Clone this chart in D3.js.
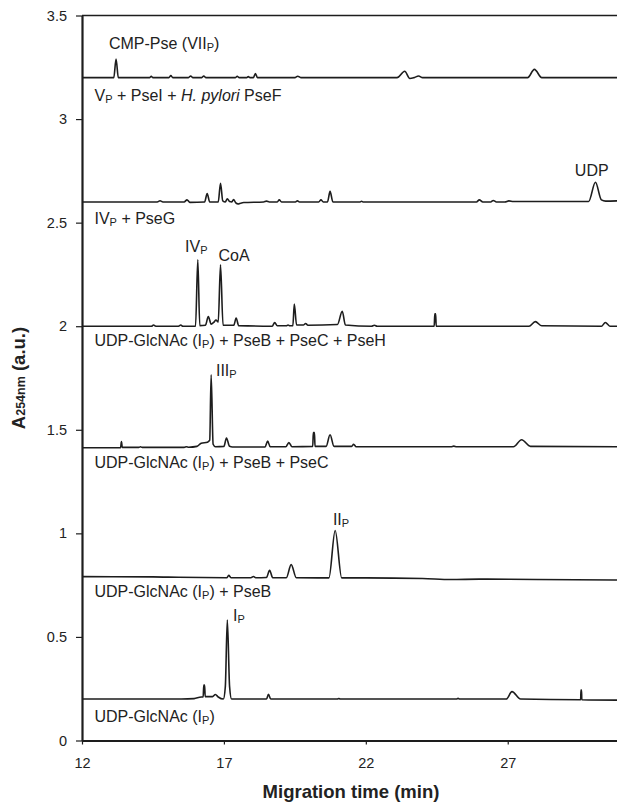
<!DOCTYPE html>
<html>
<head>
<meta charset="utf-8">
<script src="https://cdn.jsdelivr.net/npm/d3@7"></script>
<style>
  body { margin: 0; background: #fff; }
  svg { display: block; font-family: "Liberation Sans", Arial, sans-serif; }
</style>
</head>
<body>
<svg id="chart" width="617" height="804"></svg>
<script>
// axis ticks
const xTicks = [12, 17, 22, 27];
const yTicks = [0, 0.5, 1, 1.5, 2, 2.5, 3, 3.5];

// traces: [migration time (min), absorbance]
const traceCMP = [[12,3.2],[13.12,3.2],[13.2,3.29],[13.28,3.2],[14.38,3.2],[14.44,3.206],[14.5,3.2],[15.06,3.2],[15.13,3.21],[15.2,3.2],[15.75,3.2],[15.83,3.208],[15.9,3.2],[16.22,3.2],[16.29,3.208],[16.36,3.2],[17.4,3.2],[17.47,3.206],[17.54,3.2],[17.8,3.2],[17.86,3.205],[17.92,3.2],[18.04,3.2],[18.11,3.22],[18.18,3.2],[19.5,3.2],[19.6,3.207],[19.72,3.2],[23.1,3.2],[23.37,3.231],[23.55,3.196],[23.7,3.2],[23.86,3.208],[24.0,3.2],[27.7,3.2],[27.94,3.24],[28.2,3.2],[30.85,3.2]];
const tracePseG = [[12,2.6],[14.65,2.6],[14.75,2.606],[14.85,2.6],[15.6,2.6],[15.7,2.61],[15.8,2.598],[16.32,2.6],[16.41,2.64],[16.5,2.6],[16.8,2.6],[16.88,2.69],[16.96,2.605],[17.05,2.6],[17.12,2.615],[17.2,2.602],[17.28,2.6],[17.34,2.612],[17.42,2.595],[17.5,2.59],[17.59,2.594],[17.7,2.597],[18.4,2.6],[18.5,2.604],[18.6,2.6],[18.88,2.6],[18.95,2.61],[19.03,2.6],[19.52,2.6],[19.59,2.605],[19.66,2.6],[20.34,2.6],[20.42,2.61],[20.5,2.6],[20.65,2.6],[20.74,2.651],[20.84,2.6],[21.8,2.6],[21.85,2.603],[21.9,2.6],[25.9,2.6],[26.0,2.61],[26.12,2.6],[26.4,2.6],[26.49,2.607],[26.6,2.6],[26.9,2.6],[27.04,2.605],[27.2,2.602],[29.85,2.602],[30.09,2.695],[30.3,2.61],[30.45,2.604],[30.85,2.605]];
const tracePseH = [[12,2.0],[14.45,2.0],[14.52,2.006],[14.6,2.0],[15.4,2.0],[15.48,2.006],[15.55,2.0],[16.0,2.0],[16.08,2.321],[16.15,2.003],[16.35,2.005],[16.45,2.047],[16.55,2.01],[16.65,2.02],[16.72,2.03],[16.8,2.02],[16.88,2.297],[16.97,2.005],[17.35,2.005],[17.43,2.04],[17.52,2.003],[18.7,2.0],[18.79,2.018],[18.88,2.002],[19.2,2.002],[19.26,2.006],[19.32,2.002],[19.43,2.003],[19.48,2.107],[19.56,2.006],[19.8,2.006],[19.88,2.013],[19.96,2.005],[21.0,2.008],[21.17,2.072],[21.28,2.006],[22.2,2.0],[22.3,2.005],[22.4,2.0],[24.41,2.0],[24.43,2.06],[24.46,2.06],[24.48,2.0],[27.75,2.0],[27.97,2.022],[28.2,2.002],[30.3,2.0],[30.44,2.018],[30.6,2.0],[30.85,2.0]];
const tracePseC = [[12,1.413],[13.36,1.414],[13.39,1.443],[13.42,1.415],[14.0,1.415],[14.06,1.418],[14.12,1.415],[15.6,1.415],[15.68,1.418],[15.76,1.416],[16.05,1.42],[16.2,1.435],[16.42,1.44],[16.5,1.45],[16.55,1.766],[16.62,1.43],[16.7,1.418],[17.0,1.42],[17.09,1.46],[17.2,1.42],[17.3,1.417],[18.45,1.417],[18.54,1.446],[18.63,1.418],[19.18,1.418],[19.29,1.438],[19.4,1.418],[20.13,1.42],[20.15,1.487],[20.19,1.487],[20.21,1.42],[20.6,1.42],[20.74,1.476],[20.88,1.42],[21.5,1.42],[21.57,1.43],[21.66,1.418],[25.0,1.418],[25.1,1.421],[25.2,1.418],[27.2,1.418],[27.49,1.452],[27.8,1.42],[30.85,1.418]];
const tracePseB = [[12,0.791],[14.5,0.79],[15.4,0.788],[17.1,0.786],[17.17,0.797],[17.25,0.786],[17.95,0.786],[18.04,0.792],[18.12,0.786],[18.5,0.787],[18.61,0.822],[18.72,0.786],[19.2,0.786],[19.37,0.849],[19.55,0.786],[20.7,0.785],[20.92,1.014],[21.15,0.785],[22.0,0.785],[24.0,0.782],[25.0,0.777],[26.0,0.779],[28.0,0.777],[30.85,0.775]];
const traceGlcNAc = [[12,0.2],[15.5,0.2],[15.95,0.202],[16.2,0.21],[16.27,0.21],[16.29,0.268],[16.32,0.268],[16.34,0.212],[16.6,0.212],[16.7,0.222],[16.8,0.21],[16.98,0.2],[17.05,0.26],[17.12,0.582],[17.2,0.26],[17.27,0.2],[18.5,0.2],[18.57,0.223],[18.65,0.2],[21.0,0.2],[21.05,0.203],[21.1,0.2],[25.2,0.2],[25.25,0.204],[25.3,0.2],[26.95,0.2],[27.15,0.236],[27.45,0.2],[29.57,0.197],[29.58,0.244],[29.6,0.244],[29.61,0.197],[30.85,0.195]];

const traces = [traceCMP, tracePseG, tracePseH, tracePseC, tracePseB, traceGlcNAc];

// annotations: text pieces (sub = subscript, i = italic) placed at [time, absorbance]
const labels = [
  {at: [12.95, 3.336], parts: [{t: "CMP-Pse (VII"}, {t: "P", sub: 1}, {t: ")"}]},
  {at: [12.44, 3.085], parts: [{t: "V"}, {t: "P", sub: 1}, {t: " + PseI + "}, {t: "H. pylori", i: 1}, {t: " PseF"}]},
  {at: [29.96, 2.727], anchor: "middle", parts: [{t: "UDP"}]},
  {at: [12.44, 2.495], parts: [{t: "IV"}, {t: "P", sub: 1}, {t: " + PseG"}]},
  {at: [15.63, 2.36], parts: [{t: "IV"}, {t: "P", sub: 1}]},
  {at: [16.81, 2.316], parts: [{t: "CoA"}]},
  {at: [12.44, 1.905], parts: [{t: "UDP-GlcNAc (I"}, {t: "P", sub: 1}, {t: ") + PseB + PseC + PseH"}]},
  {at: [16.72, 1.761], parts: [{t: "III"}, {t: "P", sub: 1}]},
  {at: [12.44, 1.316], parts: [{t: "UDP-GlcNAc (I"}, {t: "P", sub: 1}, {t: ") + PseB + PseC"}]},
  {at: [20.84, 1.041], parts: [{t: "II"}, {t: "P", sub: 1}]},
  {at: [12.44, 0.693], parts: [{t: "UDP-GlcNAc (I"}, {t: "P", sub: 1}, {t: ") + PseB"}]},
  {at: [17.32, 0.577], parts: [{t: "I"}, {t: "P", sub: 1}]},
  {at: [12.44, 0.089], parts: [{t: "UDP-GlcNAc (I"}, {t: "P", sub: 1}, {t: ")"}]}
];

const svg = d3.select("#chart"),
  ink = "#1d1d1d";

const x = d3.scaleLinear().domain([12, 30.85]).range([82, 617]);
const y = d3.scaleLinear().domain([0, 3.5]).range([740.5, 15.5]);

// frame line at the top
svg.append("line")
  .attr("x1", x(12)).attr("x2", x(30.85))
  .attr("y1", y(3.5)).attr("y2", y(3.5))
  .attr("stroke", ink).attr("stroke-width", 1.6);

const xAxis = svg.append("g")
  .attr("transform", `translate(0,${y(0)})`)
  .call(d3.axisBottom(x).tickValues(xTicks).tickSize(4).tickSizeOuter(0).tickPadding(13));

const yAxis = svg.append("g")
  .attr("transform", `translate(${x(12)},0)`)
  .call(d3.axisLeft(y).tickValues(yTicks).tickFormat(d3.format("~g")).tickSize(6).tickSizeOuter(0).tickPadding(9));

[xAxis, yAxis].forEach(g => {
  g.select(".domain").attr("stroke", ink).attr("stroke-width", 2.2);
  g.selectAll(".tick line").attr("stroke", ink).attr("stroke-width", 1.2);
  g.selectAll(".tick text").attr("fill", "#222").style("font-size", "14.5px")
    .style("font-family", "'Liberation Sans', Arial, sans-serif");
});

// traces
const line = d3.line()
  .x(d => x(d[0]))
  .y(d => y(d[1]))
  .curve(d3.curveMonotoneX);

svg.selectAll("path.trace")
  .data(traces)
  .enter()
  .append("path")
  .attr("class", "trace")
  .attr("d", line)
  .attr("fill", "none")
  .attr("stroke", ink)
  .attr("stroke-width", 1.6)
  .attr("stroke-linejoin", "round");

// annotations
labels.forEach(l => {
  let t = svg.append("text")
    .attr("x", x(l.at[0]))
    .attr("y", y(l.at[1]))
    .attr("text-anchor", l.anchor || "start")
    .attr("fill", "#222")
    .style("font-size", "16px");
  let shifted = false;
  l.parts.forEach(p => {
    let s = t.append("tspan").text(p.t);
    if (p.sub) {
      s.attr("dy", 2).style("font-size", "11px");
      shifted = true;
    } else if (shifted) {
      s.attr("dy", -2);
      shifted = false;
    }
    if (p.i) s.style("font-style", "italic");
  });
});

// axis titles
svg.append("text")
  .attr("x", 351)
  .attr("y", 798)
  .attr("text-anchor", "middle")
  .attr("fill", "#222")
  .style("font-size", "18.5px")
  .style("font-weight", "bold")
  .text("Migration time (min)");

let yl = svg.append("text")
  .attr("transform", "translate(25,378) rotate(-90)")
  .attr("text-anchor", "middle")
  .attr("fill", "#222")
  .style("font-weight", "bold")
  .style("font-size", "18.5px");
yl.append("tspan").text("A");
yl.append("tspan").text("254nm").style("font-size", "12.5px");
yl.append("tspan").text(" (a.u.)");
</script>
</body>
</html>
